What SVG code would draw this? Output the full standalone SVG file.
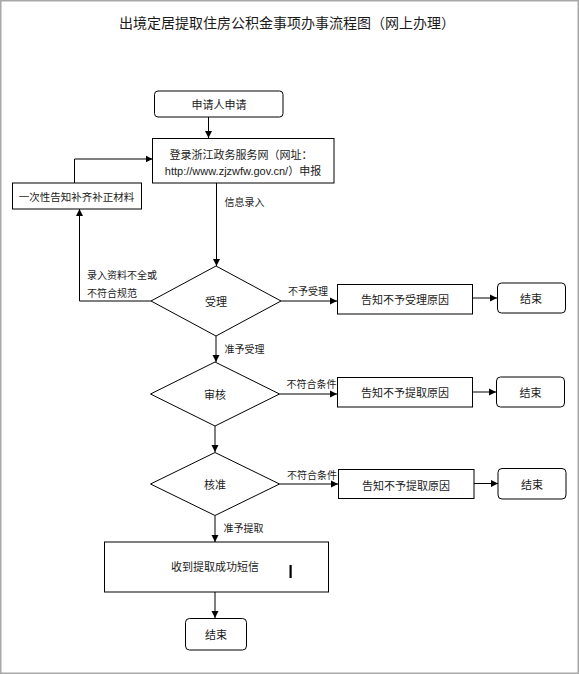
<svg xmlns="http://www.w3.org/2000/svg" width="579" height="674" viewBox="0 0 579 674">
<defs>
<marker id="arr" markerWidth="8" markerHeight="8" refX="7" refY="4" orient="auto" markerUnits="userSpaceOnUse">
<path d="M0,0.5 L7,4 L0,7.5 Z" fill="#000"/>
</marker>
<style>
.t{font-family:"Noto Sans CJK SC","Liberation Sans",sans-serif;fill:#1a1a1a;text-anchor:middle;dominant-baseline:central}
.b{font-size:11px}
.l{font-size:10px;text-anchor:start}
.box{fill:#fff;stroke:#000;stroke-width:1}
.c{fill:none;stroke:#000;stroke-width:1;marker-end:url(#arr)}
</style>
</defs>
<rect x="0" y="0" width="579" height="674" fill="#fff"/>
<rect x="0.75" y="0.75" width="577.5" height="672.5" fill="none" stroke="#a8a8a8" stroke-width="1.5"/>
<text class="t" x="287" y="22" font-size="14">出境定居提取住房公积金事项办事流程图（网上办理）</text>

<g id="connectors">
<path class="c" d="M208.5,117 V138"/>
<path class="c" d="M74.5,183 V159 H152.5"/>
<path class="c" d="M216.5,183 V266"/>
<path class="c" d="M151,301 H79.5 V209"/>
<path class="c" d="M281,301 H337"/>
<path class="c" d="M473,298 H497"/>
<path class="c" d="M216,336 V362"/>
<path class="c" d="M279.5,394 H337"/>
<path class="c" d="M473,392 H496"/>
<path class="c" d="M215,426 V452"/>
<path class="c" d="M279.5,484 H338"/>
<path class="c" d="M474,483.5 H498"/>
<path class="c" d="M215,516 V542"/>
<path class="c" d="M215,592 V618"/>
<text class="t l" x="224.5" y="201">信息录入</text>
<text class="t l" x="87" y="274">录入资料不全或</text>
<text class="t l" x="87" y="292">不符合规范</text>
<text class="t l" x="288" y="290">不予受理</text>
<text class="t l" x="224.5" y="348">准予受理</text>
<text class="t l" x="286.5" y="383">不符合条件</text>
<text class="t l" x="287" y="474.5">不符合条件</text>
<text class="t l" x="223.5" y="527">准予提取</text>
</g>

<g id="n-apply">
<rect class="box" x="154.5" y="91" width="128.5" height="26" rx="3.5"/>
<text class="t b" x="219" y="104">申请人申请</text>
</g>
<g id="n-login">
<rect class="box" x="152.5" y="138.5" width="181.5" height="44.5"/>
<text class="t b" x="241" y="154">登录浙江政务服务网（网址：</text>
<text class="t b" x="243" y="170.5" style="font-family:'Liberation Sans','Noto Sans CJK SC',sans-serif">http://www.zjzwfw.gov.cn/）申报</text>
</g>
<g id="n-notify">
<rect class="box" x="12.5" y="183" width="129" height="26"/>
<text class="t" x="76.5" y="196" font-size="10.5">一次性告知补齐补正材料</text>
</g>
<g id="n-accept">
<path class="box" d="M216,266 L281,301 L216,336 L151,301 Z"/>
<text class="t b" x="216" y="301">受理</text>
</g>
<g id="n-reject1">
<rect class="box" x="337.5" y="284.5" width="135" height="29.5"/>
<text class="t b" x="405" y="299">告知不予受理原因</text>
</g>
<g id="n-end1">
<rect class="box" x="497.5" y="283" width="68" height="30" rx="4"/>
<text class="t b" x="531" y="298">结束</text>
</g>
<g id="n-review">
<path class="box" d="M215,362 L279.5,394 L215,426 L150.5,394 Z"/>
<text class="t b" x="215" y="394">审核</text>
</g>
<g id="n-reject2">
<rect class="box" x="337.5" y="377.5" width="135" height="29.5"/>
<text class="t b" x="405" y="392">告知不予提取原因</text>
</g>
<g id="n-end2">
<rect class="box" x="496.5" y="377" width="68" height="30" rx="4"/>
<text class="t b" x="530.5" y="392">结束</text>
</g>
<g id="n-approve">
<path class="box" d="M215,452.5 L279.5,484 L215,515.5 L150.5,484 Z"/>
<text class="t b" x="215" y="484">核准</text>
</g>
<g id="n-reject3">
<rect class="box" x="338.5" y="469.5" width="135.5" height="29"/>
<text class="t b" x="406" y="484.5">告知不予提取原因</text>
</g>
<g id="n-end3">
<rect class="box" x="498" y="468.5" width="68" height="30.5" rx="4"/>
<text class="t b" x="532" y="484">结束</text>
</g>
<g id="n-success">
<rect class="box" x="104.5" y="542" width="224" height="50"/>
<text class="t b" x="215" y="565.5">收到提取成功短信</text>
<rect x="289.5" y="565" width="2.2" height="13" fill="#000"/>
</g>
<g id="n-end4">
<rect class="box" x="185.5" y="618.5" width="61" height="31.5" rx="4"/>
<text class="t b" x="216" y="634">结束</text>
</g>
</svg>
